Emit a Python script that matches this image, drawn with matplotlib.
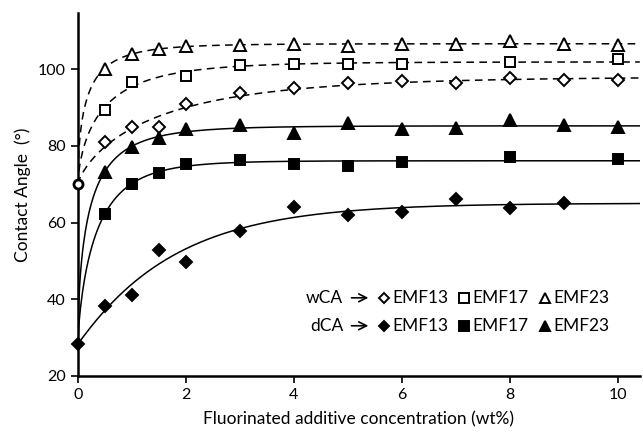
import numpy as np
import matplotlib
matplotlib.use('Agg')
import matplotlib.pyplot as plt

plt.rcParams['font.family'] = ['Lato', 'DejaVu Sans']

# concentration of fluorinated additive (wt%)
conc = [0, 0.5, 1, 1.5, 2, 3, 4, 5, 6, 7, 8, 9, 10]
conc17 = [0, 0.5, 1, 2, 3, 4, 5, 6, 8, 10]
conc_d17 = [0, 0.5, 1, 1.5, 2, 3, 4, 5, 6, 8, 10]
conc_d13 = [0, 0.5, 1, 1.5, 2, 3, 4, 5, 6, 7, 8, 9]

# water contact angle (wCA)
w_emf13 = [70, 80.9, 85.0, 85.0, 90.9, 93.9, 95.0, 96.3, 97.0, 96.3, 97.6, 97.2, 97.2]
w_emf17 = [70, 89.5, 96.7, 98.3, 101.1, 101.5, 101.3, 101.3, 102.0, 102.6]
w_emf23 = [70, 100.2, 104.0, 105.2, 106.1, 106.3, 106.7, 106.0, 106.7, 106.7, 107.4, 106.7, 106.3]

# diiodomethane contact angle (dCA)
d_emf13 = [28.3, 38.3, 41.1, 52.9, 49.8, 57.9, 64.0, 62.0, 62.8, 66.2, 63.9, 65.0]
d_emf17 = [28.3, 62.2, 70.1, 73.0, 75.3, 76.3, 75.3, 74.8, 75.9, 77.0, 76.6]
d_emf23 = [28.3, 73.3, 79.6, 82.0, 84.4, 85.4, 83.3, 85.9, 84.3, 84.8, 86.8, 85.4, 85.0]


def fit_curve(x, y, xs):
    # stretched exponential fit y = y0 + A (1 - exp(-(x/K)^n)), y0 fixed at x=0 value
    x = np.asarray(x, float)
    y = np.asarray(y, float)
    y0 = y[0]
    best = None
    for n in np.linspace(0.3, 2.0, 69):
        for K in np.logspace(-2.5, 1, 141):
            b = 1 - np.exp(-(x / K) ** n)
            A = np.dot(b, y - y0) / np.dot(b, b)
            err = np.sum((y0 + A * b - y) ** 2)
            if best is None or err < best[0]:
                best = (err, n, K, A)
    _, n, K, A = best
    return y0 + A * (1 - np.exp(-(xs / K) ** n))


fig = plt.figure(figsize=(6.43, 4.32), dpi=100)
ax = fig.add_axes([0.121, 0.130, 0.874, 0.840])

xs = np.linspace(0, 10.4, 600)

series = [
    (conc, w_emf13, 'D', 'white', '--', 6.5),
    (conc17, w_emf17, 's', 'white', '--', 7.5),
    (conc, w_emf23, '^', 'white', '--', 8.5),
    (conc_d13, d_emf13, 'D', 'black', '-', 6.5),
    (conc_d17, d_emf17, 's', 'black', '-', 7.5),
    (conc, d_emf23, '^', 'black', '-', 8.5),
]

for x, y, m, fc, ls, ms in series:
    ax.plot(xs, fit_curve(x, y, xs), color='black', lw=1.1, ls=ls,
            dashes=(5, 3.5) if ls == '--' else (None, None), zorder=2)
    ax.plot(x[1:], y[1:], ls='none', marker=m, ms=ms, mfc=fc, mec='black',
            mew=1.4, zorder=3)

# shared starting points at 0 wt%
ax.plot([conc[0]], [w_emf13[0]], marker='o', ms=6.5, mfc='white', mec='black',
        mew=2, ls='none', zorder=4, clip_on=False)
ax.plot([conc_d13[0]], [d_emf13[0]], marker='D', ms=6.5, mfc='black', mec='black',
        mew=1.4, ls='none', zorder=4, clip_on=False)

ax.set_xlim(0, 10.4)
ax.set_ylim(20, 114.7)
ax.set_xticks([0, 2, 4, 6, 8, 10])
ax.set_yticks([20, 40, 60, 80, 100])
ax.spines['top'].set_visible(False)
ax.spines['right'].set_visible(False)
ax.spines['left'].set_linewidth(1.8)
ax.spines['bottom'].set_linewidth(1.8)
ax.tick_params(direction='out', length=5, width=1.2, labelsize=11.5)
ax.set_xlabel('Fluorinated additive concentration (wt%)', fontsize=12.5, labelpad=7)
ax.set_ylabel('Contact Angle  (°)', fontsize=12.5, labelpad=5)

# legend drawn as text rows
rows = [('wCA', 0.215, 'white'), ('dCA', 0.138, 'black')]
items = [('D', 'EMF13', 0.545, 5.5), ('s', 'EMF17', 0.687, 6.5), ('^', 'EMF23', 0.831, 7.5)]
for lab, yy, fc in rows:
    ax.text(0.472, yy, lab, transform=ax.transAxes, ha='right', va='center', fontsize=12.5)
    ax.annotate('', xy=(0.522, yy), xytext=(0.482, yy), xycoords='axes fraction',
                arrowprops=dict(arrowstyle='->', lw=1.2, color='black', mutation_scale=14))
    for m, name, xx, ms in items:
        ax.plot([xx], [yy], transform=ax.transAxes, marker=m, ms=ms, mfc=fc,
                mec='black', mew=1.4, ls='none')
        ax.text(xx + 0.015, yy, name, transform=ax.transAxes, ha='left', va='center', fontsize=12.5)

fig.savefig('out.png', dpi=100)
